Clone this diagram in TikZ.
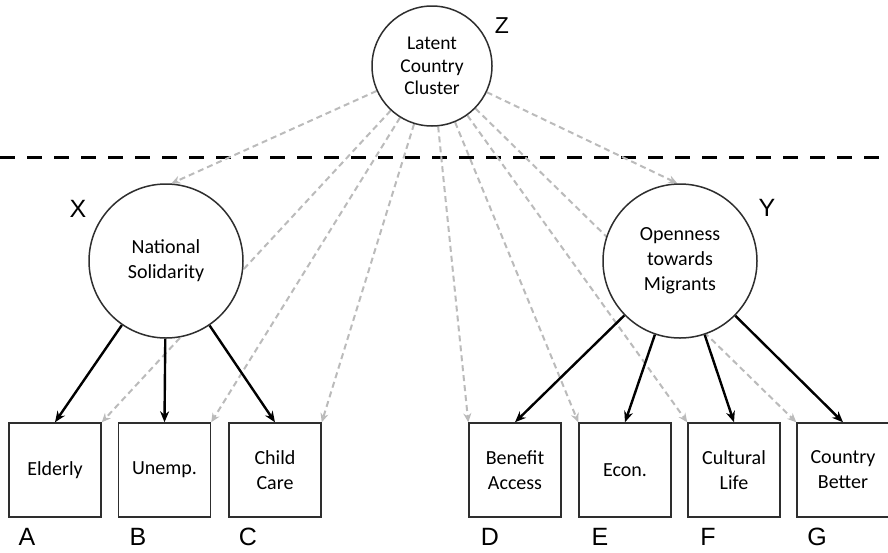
\documentclass[tikz,border=0pt]{standalone}
\usepackage{fontspec}
\setmainfont{Carlito}
\newfontfamily\arialfont{Liberation Sans}
\usetikzlibrary{arrows.meta,backgrounds}
\definecolor{zgray}{HTML}{BBBBBB}
\definecolor{edge}{HTML}{2E2E2E}
\begin{document}
\begin{tikzpicture}[x=1pt,y=-1pt,
  latent/.style={circle,draw=edge,line width=1.5pt,fill=white,align=center,inner sep=0pt},
  obs/.style={rectangle,draw=edge,line width=1.5pt,fill=white,minimum width=92pt,minimum height=94pt,inner sep=0pt,align=center,font=\fontsize{20}{25}\selectfont},
  load/.style={line width=2.4pt,-{Stealth[length=11pt,width=9pt]}},
  zload/.style={draw=zgray,line width=2pt,dash pattern=on 6pt off 4pt,-{Stealth[length=9pt,width=8pt]}},
  lett/.style={font=\arialfont\fontsize{25}{25}\selectfont,inner sep=0pt},
  sep/.style={line width=3pt,dash pattern=on 15pt off 12pt}]
\useasboundingbox (0,0) rectangle (888,552);

\node[latent,minimum size=120pt,font=\fontsize{19.5}{22.5}\selectfont] (Z) at (432,66) {Latent\\Country\\Cluster};
\node[latent,minimum size=154pt,font=\fontsize{20}{25}\selectfont] (X) at (166,261) {National\\Solidarity};
\node[latent,minimum size=154pt,font=\fontsize{20}{25}\selectfont] (Y) at (680,261) {Openness\\towards\\Migrants};

\node[obs] (eld) at (55,470) {Elderly};
\node[obs] (une) at (164.5,470) {Unemp.};
\node[obs] (chi) at (275,470) {Child\\Care};
\node[obs] (ben) at (515,470) {Benefit\\Access};
\node[obs] (eco) at (625,470) {Econ.};
\node[obs] (cul) at (734,470) {Cultural\\Life};
\node[obs] (cou) at (843,470) {Country\\Better};

\node[lett] (la) at (27,537) {A};
\node[lett] (lb) at (138,537) {B};
\node[lett] (lc) at (248,537) {C};
\node[lett] (ld) at (490,537) {D};
\node[lett] (le) at (600,537) {E};
\node[lett] (lf) at (708,537) {F};
\node[lett] (lg) at (817,537) {G};
\node[lett] (lx) at (78,209) {X};
\node[lett] (ly) at (767,208) {Y};
\node[lett,font=\arialfont\fontsize{23}{23}\selectfont] (lz) at (502,26) {Z};

\coordinate (sepL) at (0,157);
\coordinate (sepR) at (888,157);

\begin{scope}[on background layer]
  \draw[sep] (sepL) -- (sepR);
  \draw[zload] (Z) -- (X.86);
  \draw[zload] (Z) -- (Y.92);
  \draw[zload] (Z) -- (eld.north east);
  \draw[zload] (Z) -- (une.north east);
  \draw[zload] (Z) -- (chi.north east);
  \draw[zload] (Z) -- (ben.north west);
  \draw[zload] (Z) -- (eco.north west);
  \draw[zload] (Z) -- (cul.north west);
  \draw[zload] (Z) -- (cou.north west);
  \draw[load] (X) -- (eld.north);
  \draw[load] (X) -- (une.north);
  \draw[load] (X) -- (chi.north);
  \draw[load] (Y) -- (ben.north);
  \draw[load] (Y) -- (eco.north);
  \draw[load] (Y) -- (cul.north);
  \draw[load] (Y) -- (cou.north);
\end{scope}
\end{tikzpicture}
\end{document}
